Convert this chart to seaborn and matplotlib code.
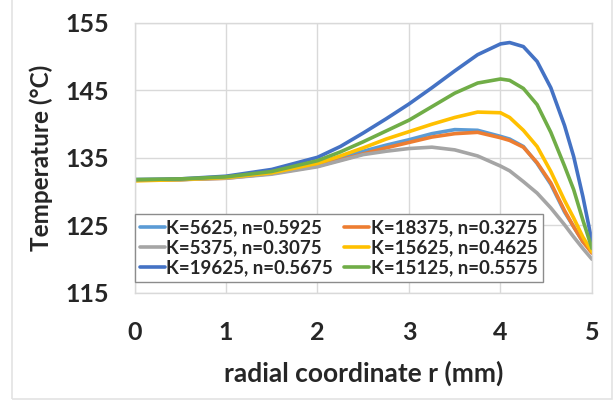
import matplotlib
matplotlib.use("Agg")
import matplotlib.pyplot as plt
from matplotlib.patches import Rectangle
import pandas as pd
import seaborn as sns

# radial positions (mm)
r_mm = [0, 0.5, 1, 1.5, 2, 2.25, 2.5, 2.75, 3, 3.25, 3.5, 3.75, 4, 4.1,
        4.25, 4.4, 4.55, 4.7, 4.8, 4.9, 5]

# temperature profiles (°C) for each (K, n) pair
t_k5625 = [131.7, 131.8, 132.1, 132.8, 134.0, 135.0, 136.0, 136.9, 137.7, 138.6, 139.2,
           139.1, 138.2, 137.8, 136.7, 134.2, 131.1, 127.0, 124.8, 122.6, 121.2]
t_k18375 = [131.7, 131.8, 132.0, 132.7, 133.8, 134.7, 135.6, 136.5, 137.3, 138.1, 138.6,
            138.8, 138.0, 137.6, 136.6, 134.3, 131.3, 127.2, 124.8, 122.6, 120.9]
t_k5375 = [131.7, 131.8, 132.0, 132.6, 133.7, 134.6, 135.5, 136.0, 136.4, 136.6, 136.2,
           135.3, 133.8, 133.1, 131.5, 129.8, 127.6, 125.1, 123.3, 121.6, 120.0]
t_k15625 = [131.6, 131.8, 132.1, 132.8, 134.2, 135.3, 136.5, 137.8, 138.9, 140.0, 141.0,
            141.8, 141.7, 141.0, 139.1, 136.7, 133.0, 128.7, 126.1, 123.3, 121.1]
t_k19625 = [131.8, 131.9, 132.3, 133.3, 135.1, 136.7, 138.7, 140.8, 143.0, 145.4, 147.9,
            150.3, 151.9, 152.1, 151.5, 149.3, 145.4, 139.8, 135.2, 129.3, 122.6]
t_k15125 = [131.8, 131.9, 132.2, 133.0, 134.6, 135.9, 137.4, 139.0, 140.6, 142.6, 144.6,
            146.1, 146.7, 146.5, 145.3, 142.9, 138.8, 133.8, 130.3, 125.8, 121.6]

labels = ["K=5625, n=0.5925", "K=18375, n=0.3275", "K=5375, n=0.3075",
          "K=15625, n=0.4625", "K=19625, n=0.5675", "K=15125, n=0.5575"]
series = [t_k5625, t_k18375, t_k5375, t_k15625, t_k19625, t_k15125]
colors = ["#5B9BD5", "#ED7D31", "#A5A5A5", "#FFC000", "#4472C4", "#70AD47"]

x_ticks = [0, 1, 2, 3, 4, 5]
y_ticks = [115, 125, 135, 145, 155]

df = pd.concat(
    [pd.DataFrame({"r": r_mm, "T": t, "case": lab}) for t, lab in zip(series, labels)],
    ignore_index=True,
)

sns.set_theme(style="white")
plt.rcParams["font.family"] = ["Lato", "DejaVu Sans"]
plt.rcParams["font.weight"] = "bold"

fig = plt.figure(figsize=(6.15, 4.03), dpi=100)
ax = fig.add_axes([0.2187, 0.2730, 0.7439, 0.6700])

sns.lineplot(data=df, x="r", y="T", hue="case", hue_order=labels,
             palette=colors, linewidth=2.6, ax=ax, legend=False, sort=True)
for ln in ax.get_lines():
    ln.set_solid_joinstyle("round")
    ln.set_solid_capstyle("round")

ax.set_xlim(0, 5)
ax.set_ylim(115, 155)
ax.set_xticks(x_ticks)
ax.set_yticks(y_ticks)
ax.grid(True, color="#D9D9D9", linewidth=1.0)
ax.set_axisbelow(True)
for sp in ax.spines.values():
    sp.set_color("#D9D9D9")
    sp.set_linewidth(1.0)
ax.tick_params(axis="both", length=0, labelsize=18)
ax.tick_params(axis="x", pad=20)
ax.tick_params(axis="y", pad=18)
for lab in ax.get_xticklabels() + ax.get_yticklabels():
    lab.set_fontweight("bold")

ax.set_xlabel("radial coordinate r (mm)", fontsize=19, fontweight="bold", labelpad=12)
ax.set_ylabel("Temperature (°C)", fontsize=17.5, fontweight="bold", labelpad=9)

# legend laid out row by row in two columns
order = [0, 2, 4, 1, 3, 5]
h = [plt.Line2D([], [], color=colors[i], linewidth=2.6) for i in order]
leg = ax.legend(h, [labels[i] for i in order], ncol=2, loc="lower left",
                bbox_to_anchor=(0.0, 0.04), frameon=True,
                fancybox=False, edgecolor="#8C8C8C", framealpha=1,
                handlelength=1.3, handletextpad=0.1, columnspacing=0.6,
                labelspacing=0.16, borderpad=0.3, borderaxespad=0.0,
                prop={"weight": "bold", "size": 13.5})
leg.get_frame().set_linewidth(1.0)

# outer chart border
fig.patches.append(Rectangle((12 / 615, 1 - 399 / 403), (612 - 12) / 615, 1.2,
                             transform=fig.transFigure, fill=False,
                             edgecolor="#E3E3E3", linewidth=1.2))

fig.savefig("out.png", dpi=100)
